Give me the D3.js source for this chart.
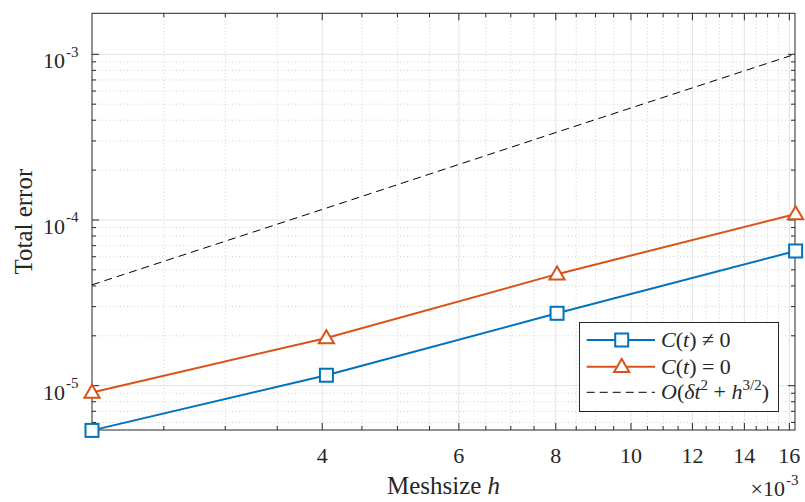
<!DOCTYPE html>
<html><head><meta charset="utf-8">
<script src="https://cdn.jsdelivr.net/npm/d3@7"></script>
<style>body{margin:0;background:#fff}svg{display:block}text{font-family:"Liberation Serif","DejaVu Serif",serif;fill:#262626}</style>
</head><body>
<svg id="c" width="805" height="502"></svg>
<script>
// Data (h in units of 1e-3)
const meshsize = [2.02, 4.05, 8.03, 16.3];
const errNonZeroC = [5.37e-6, 1.156e-5, 2.734e-5, 6.50e-5];
const errZeroC = [9.10e-6, 1.940e-5, 4.71e-5, 1.087e-4];
const refOrder = [4.06e-5, 1.18e-4, 3.39e-4, 1.003e-3];
const xMajorTicks = [4, 6, 8, 10, 12, 14, 16];
const xMinorTicks = [2.5,3,3.5,4.5,5,5.5,6.5,7,7.5,8.5,9,9.5,10.5,11,11.5,12.5,13,13.5,14.5,15,15.5,16];
const yMajorTicks = [1e-5, 1e-4, 1e-3];
const yMajorLabels = ["-5", "-4", "-3"];
const yMinorTicks = [6e-6,7e-6,8e-6,9e-6,2e-5,3e-5,4e-5,5e-5,6e-5,7e-5,8e-5,9e-5,2e-4,3e-4,4e-4,5e-4,6e-4,7e-4,8e-4,9e-4];
const xDomain = [2.02, 16.27];
const yDomain = [5.40e-6, 1.768e-3];

const svg = d3.select("#c");
const L = 92, R = 795, T = 13.3, B = 430;
const x = d3.scaleLog().domain(xDomain).range([L, R]);
const y = d3.scaleLog().domain(yDomain).range([B, T]);

const g = svg.append("g");
// minor grid
const xMinorOnly = xMinorTicks.filter(v => !xMajorTicks.includes(v));
g.selectAll(".xmg").data(xMinorOnly).join("line")
  .attr("x1", d => x(d)).attr("x2", d => x(d)).attr("y1", T).attr("y2", B)
  .attr("stroke", "#c4c4c4").attr("stroke-width", 0.8).attr("stroke-dasharray", "1,2.5");
g.selectAll(".ymg").data(yMinorTicks).join("line")
  .attr("y1", d => y(d)).attr("y2", d => y(d)).attr("x1", L).attr("x2", R)
  .attr("stroke", "#c4c4c4").attr("stroke-width", 0.8).attr("stroke-dasharray", "1,2.5");
// major grid
g.selectAll(".xg").data(xMajorTicks).join("line")
  .attr("x1", d => x(d)).attr("x2", d => x(d)).attr("y1", T).attr("y2", B)
  .attr("stroke", "#e3e3e3").attr("stroke-width", 1);
g.selectAll(".yg").data(yMajorTicks).join("line")
  .attr("y1", d => y(d)).attr("y2", d => y(d)).attr("x1", L).attr("x2", R)
  .attr("stroke", "#e3e3e3").attr("stroke-width", 1);

// axes box
const ax = svg.append("g").attr("stroke", "#262626").attr("stroke-width", 1);
ax.append("rect").attr("x", L).attr("y", T).attr("width", R - L).attr("height", B - T).attr("fill", "none");
function xt(vals, len) {
  vals.forEach(v => {
    ax.append("line").attr("x1", x(v)).attr("x2", x(v)).attr("y1", B).attr("y2", B - len);
    ax.append("line").attr("x1", x(v)).attr("x2", x(v)).attr("y1", T).attr("y2", T + len);
  });
}
function yt(vals, len) {
  vals.forEach(v => {
    ax.append("line").attr("y1", y(v)).attr("y2", y(v)).attr("x1", L).attr("x2", L + len);
    ax.append("line").attr("y1", y(v)).attr("y2", y(v)).attr("x1", R).attr("x2", R - len);
  });
}
xt(xMajorTicks, 7); xt(xMinorOnly, 4);
yt(yMajorTicks, 7); yt(yMinorTicks, 4);

// tick labels
svg.selectAll(".xl").data(xMajorTicks).join("text")
  .attr("x", d => x(d)).attr("y", 463).attr("text-anchor", "middle")
  .attr("font-size", 22).text(d => d);
yMajorTicks.forEach((v, i) => {
  svg.append("text").attr("x", 65).attr("y", y(v) + 14).attr("text-anchor", "end").attr("font-size", 22).text("10");
  svg.append("text").attr("x", 66).attr("y", y(v) + 2.5).attr("font-size", 15).text(yMajorLabels[i]);
});
// exponent label
svg.append("text").attr("x", 785).attr("y", 496).attr("text-anchor", "end").attr("font-size", 22).text("\u00d710");
svg.append("text").attr("x", 786).attr("y", 485).attr("font-size", 15).text("-3");

// axis labels
const xl = svg.append("text").attr("x", (L + R) / 2).attr("y", 494).attr("text-anchor", "middle").attr("font-size", 25);
xl.append("tspan").text("Meshsize ");
xl.append("tspan").attr("font-style", "italic").text("h");
svg.append("text").attr("transform", `translate(32,${(T + B) / 2}) rotate(-90)`)
  .attr("text-anchor", "middle").attr("font-size", 25).text("Total error");

// series
const line = d3.line().x(d => x(d[0])).y(d => y(d[1]));
const blue = "#0072BD", orange = "#D95319";
const pts = arr => meshsize.map((h, i) => [h, arr[i]]);
svg.append("path").attr("d", line(pts(refOrder))).attr("fill", "none")
  .attr("stroke", "#000").attr("stroke-width", 1).attr("stroke-dasharray", "8,5");
svg.append("path").attr("d", line(pts(errZeroC))).attr("fill", "none").attr("stroke", orange).attr("stroke-width", 2);
svg.append("path").attr("d", line(pts(errNonZeroC))).attr("fill", "none").attr("stroke", blue).attr("stroke-width", 2);

const sq = 13, tri = d3.symbol().type(d3.symbolTriangle).size(100);
function square(sel, cx, cy) {
  sel.append("rect").attr("x", cx - sq / 2).attr("y", cy - sq / 2).attr("width", sq).attr("height", sq)
    .attr("fill", "#fff").attr("stroke", blue).attr("stroke-width", 2);
}
function triangle(sel, cx, cy) {
  sel.append("path").attr("d", tri()).attr("transform", `translate(${cx},${cy + 1})`)
    .attr("fill", "#fff").attr("stroke", orange).attr("stroke-width", 2);
}
pts(errNonZeroC).forEach(p => square(svg, x(p[0]), y(p[1])));
pts(errZeroC).forEach(p => triangle(svg, x(p[0]), y(p[1])));

// legend
const lg = svg.append("g");
lg.append("rect").attr("x", 579.5).attr("y", 322.5).attr("width", 199).attr("height", 89)
  .attr("fill", "#fff").attr("stroke", "#262626").attr("stroke-width", 1);
const rows = [340, 366.7, 392.3];
lg.append("line").attr("x1", 586.7).attr("x2", 655).attr("y1", rows[0]).attr("y2", rows[0]).attr("stroke", blue).attr("stroke-width", 2);
square(lg, 621.7, rows[0]);
lg.append("line").attr("x1", 586.7).attr("x2", 655).attr("y1", rows[1]).attr("y2", rows[1]).attr("stroke", orange).attr("stroke-width", 2);
triangle(lg, 621.7, rows[1]);
lg.append("line").attr("x1", 586.7).attr("x2", 655).attr("y1", rows[2]).attr("y2", rows[2]).attr("stroke", "#000").attr("stroke-width", 1).attr("stroke-dasharray", "8,5");

function legText(yy, parts) {
  const t = lg.append("text").attr("x", 661).attr("y", yy + 7).attr("font-size", 22);
  parts.forEach(p => {
    const s = t.append("tspan").text(p.t);
    if (p.i) s.attr("font-style", "italic");
    if (p.sup) s.attr("font-size", 15).attr("dy", -9);
    if (p.down) s.attr("dy", 9);
  });
}
legText(rows[0], [{t:"C", i:1}, {t:"("}, {t:"t", i:1}, {t:") \u2260 0"}]);
legText(rows[1], [{t:"C", i:1}, {t:"("}, {t:"t", i:1}, {t:") = 0"}]);
legText(rows[2], [{t:"O", i:1}, {t:"("}, {t:"\u03b4t", i:1}, {t:"2", sup:1}, {t:" + ", down:1}, {t:"h", i:1}, {t:"3/2", sup:1}, {t:")", down:1}]);
</script>
</body></html>
